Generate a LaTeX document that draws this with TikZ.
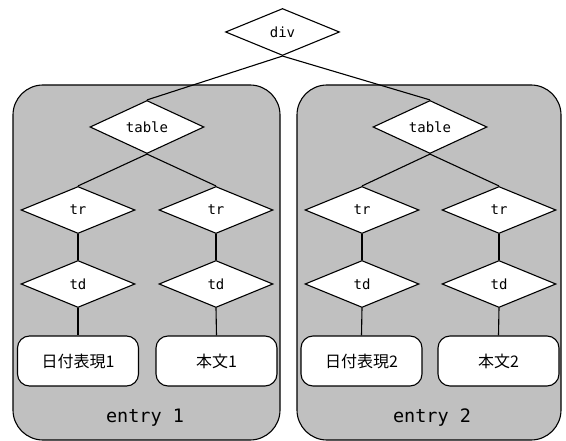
\documentclass[tikz,border=0pt]{standalone}
\usepackage{fontspec}
\setmonofont{DejaVu Sans Mono}
\newfontfamily\jpfont{Noto Sans CJK JP}
\usetikzlibrary{shapes.geometric}
\definecolor{panelgray}{RGB}{192,192,192}
\tikzset{
  panel/.style={draw=black, fill=panelgray, line width=1.1pt, rounded corners=30pt},
  dia/.style={diamond, draw=black, fill=white, line width=1.1pt, inner sep=0pt,
    minimum width=114pt, minimum height=47pt, font=\fontsize{14}{16}\selectfont\ttfamily},
  leaf/.style={draw=black, fill=white, line width=1.1pt, rounded corners=12pt,
    minimum width=121pt, minimum height=50pt, inner sep=0pt,
    font=\fontsize{16}{18}\selectfont\jpfont},
  lbl/.style={font=\fontsize{18.5}{20}\selectfont\ttfamily},
  conn/.style={draw=black, line width=1.1pt}
}
\begin{document}
\begin{tikzpicture}[x=1pt,y=-1pt]
\useasboundingbox (0,0) rectangle (566,441);
% panels
\draw[panel] (13,85) rectangle (280,440);
\draw[panel] (297,85) rectangle (561,440);
% nodes
\node[dia] (div) at (282.5,32) {div};
\node[dia] (tabL) at (147,127) {table};
\node[dia] (tabR) at (430,127) {table};
\node[dia] (trA) at (78,210) {tr};
\node[dia] (trB) at (216,210) {tr};
\node[dia] (trC) at (362,210) {tr};
\node[dia] (trD) at (499,210) {tr};
\node[dia] (tdA) at (78,284) {td};
\node[dia] (tdB) at (216,284) {td};
\node[dia] (tdC) at (362,284) {td};
\node[dia] (tdD) at (499,284) {td};
\node[leaf] (bA) at (78,361) {日付表現1};
\node[leaf] (bB) at (216.5,361) {本文1};
\node[leaf] (bC) at (361.5,361) {日付表現2};
\node[leaf] (bD) at (498.5,361) {本文2};
\node[lbl] (eA) at (145,418) {entry 1};
\node[lbl] (eB) at (432,418) {entry 2};
% connectors
\draw[conn] (div.south) -- (tabL.north);
\draw[conn] (div.south) -- (tabR.north);
\draw[conn] (tabL.south) -- (trA.north);
\draw[conn] (tabL.south) -- (trB.north);
\draw[conn] (tabR.south) -- (trC.north);
\draw[conn] (tabR.south) -- (trD.north);
\draw[conn] (trA.south) -- (tdA.north);
\draw[conn] (trB.south) -- (tdB.north);
\draw[conn] (trC.south) -- (tdC.north);
\draw[conn] (trD.south) -- (tdD.north);
\draw[conn] (tdA.south) -- (bA.north);
\draw[conn] (tdB.south) -- (bB.north);
\draw[conn] (tdC.south) -- (bC.north);
\draw[conn] (tdD.south) -- (bD.north);
\end{tikzpicture}
\end{document}
